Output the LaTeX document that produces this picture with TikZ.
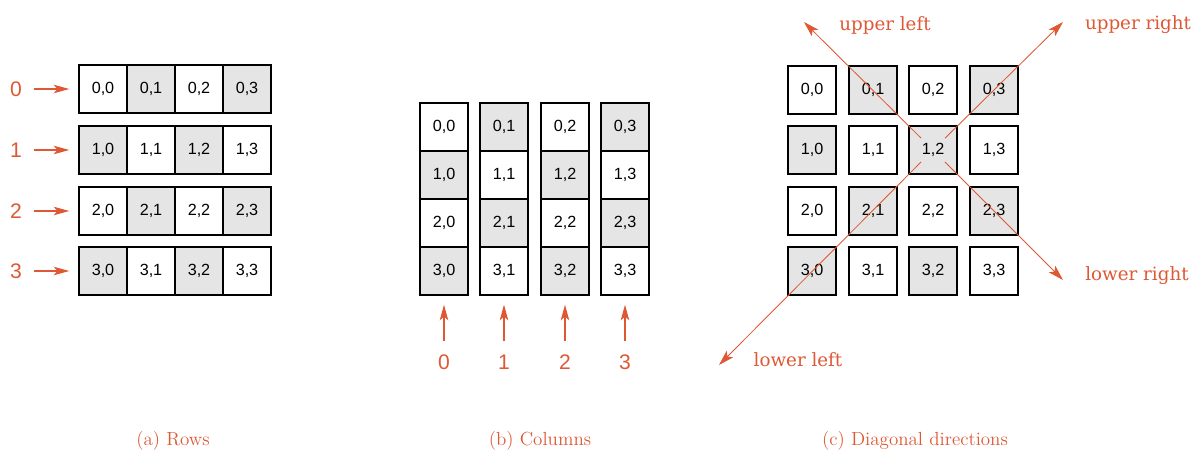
\documentclass[tikz,border=0pt]{standalone}
\usepackage{xcolor}
\usepackage{fontspec}
\setsansfont{Liberation Sans}
\newfontfamily\dirfont{DejaVu Serif}
\usepackage{tikz}
\usetikzlibrary{arrows.meta}

\definecolor{accent}{RGB}{222,88,52}
\definecolor{shade}{RGB}{229,229,229}

\tikzset{
  cell/.style={draw=black,line width=1.3pt,fill=white,minimum width=1.2cm,minimum height=1.2cm,inner sep=0pt,font=\sffamily\fontsize{11.5}{13}\selectfont},
  cellg/.style={cell,fill=shade},
  idx/.style={text=accent,inner sep=1pt,font=\sffamily\fontsize{15}{18}\selectfont},
  dirlabel/.style={text=accent,inner sep=0pt,font=\dirfont\fontsize{13}{16}\selectfont},
  caption/.style={text=accent,inner sep=0pt,font=\fontsize{13.5}{16}\selectfont},
  pointer/.style={draw=accent,line width=0.9pt,-{Stealth[length=11pt,width=6pt,inset=2.5pt]}},
  diag/.style={draw=accent,line width=0.6pt,-{Stealth[length=11pt,width=6.5pt,inset=2.5pt]}}
}

\begin{document}
\begin{tikzpicture}[x=0.025cm,y=-0.025cm]
        \useasboundingbox (0,0) rectangle (1196,454);

        % (a) rows
        \node[cell]  (A00) at (103,89) {0,0};
        \node[cellg] (A01) at (151,89) {0,1};
        \node[cell]  (A02) at (199,89) {0,2};
        \node[cellg] (A03) at (247,89) {0,3};
        \node[cellg] (A10) at (103,150) {1,0};
        \node[cell]  (A11) at (151,150) {1,1};
        \node[cellg] (A12) at (199,150) {1,2};
        \node[cell]  (A13) at (247,150) {1,3};
        \node[cell]  (A20) at (103,211) {2,0};
        \node[cellg] (A21) at (151,211) {2,1};
        \node[cell]  (A22) at (199,211) {2,2};
        \node[cellg] (A23) at (247,211) {2,3};
        \node[cellg] (A30) at (103,271) {3,0};
        \node[cell]  (A31) at (151,271) {3,1};
        \node[cellg] (A32) at (199,271) {3,2};
        \node[cell]  (A33) at (247,271) {3,3};

        \node[idx] (RA0) at (16,89) {0};
        \node[idx] (RA1) at (16,150) {1};
        \node[idx] (RA2) at (16,211) {2};
        \node[idx] (RA3) at (16,271) {3};

        \draw[pointer,shorten <=0.27cm,shorten >=0.22cm] (RA0) -- (A00.west);
        \draw[pointer,shorten <=0.27cm,shorten >=0.22cm] (RA1) -- (A10.west);
        \draw[pointer,shorten <=0.27cm,shorten >=0.22cm] (RA2) -- (A20.west);
        \draw[pointer,shorten <=0.27cm,shorten >=0.22cm] (RA3) -- (A30.west);

        % (b) columns
        \node[cell]  (B00) at (444,127) {0,0};
        \node[cellg] (B10) at (444,175) {1,0};
        \node[cell]  (B20) at (444,223) {2,0};
        \node[cellg] (B30) at (444,271) {3,0};
        \node[cellg] (B01) at (504,127) {0,1};
        \node[cell]  (B11) at (504,175) {1,1};
        \node[cellg] (B21) at (504,223) {2,1};
        \node[cell]  (B31) at (504,271) {3,1};
        \node[cell]  (B02) at (565,127) {0,2};
        \node[cellg] (B12) at (565,175) {1,2};
        \node[cell]  (B22) at (565,223) {2,2};
        \node[cellg] (B32) at (565,271) {3,2};
        \node[cellg] (B03) at (625,127) {0,3};
        \node[cell]  (B13) at (625,175) {1,3};
        \node[cellg] (B23) at (625,223) {2,3};
        \node[cell]  (B33) at (625,271) {3,3};

        \node[idx] (CB0) at (444,362) {0};
        \node[idx] (CB1) at (504,362) {1};
        \node[idx] (CB2) at (565,362) {2};
        \node[idx] (CB3) at (625,362) {3};

        \draw[pointer,shorten <=0.3cm,shorten >=0.22cm] (CB0) -- (B30.south);
        \draw[pointer,shorten <=0.3cm,shorten >=0.22cm] (CB1) -- (B31.south);
        \draw[pointer,shorten <=0.3cm,shorten >=0.22cm] (CB2) -- (B32.south);
        \draw[pointer,shorten <=0.3cm,shorten >=0.22cm] (CB3) -- (B33.south);

        % (c) diagonal directions
        \node[cell]  (C00) at (812,90) {0,0};
        \node[cellg] (C01) at (873,90) {0,1};
        \node[cell]  (C02) at (933,90) {0,2};
        \node[cellg] (C03) at (994,90) {0,3};
        \node[cellg] (C10) at (812,150) {1,0};
        \node[cell]  (C11) at (873,150) {1,1};
        \node[cellg] (C12) at (933,150) {1,2};
        \node[cell]  (C13) at (994,150) {1,3};
        \node[cell]  (C20) at (812,211) {2,0};
        \node[cellg] (C21) at (873,211) {2,1};
        \node[cell]  (C22) at (933,211) {2,2};
        \node[cellg] (C23) at (994,211) {2,3};
        \node[cellg] (C30) at (812,271) {3,0};
        \node[cell]  (C31) at (873,271) {3,1};
        \node[cellg] (C32) at (933,271) {3,2};
        \node[cell]  (C33) at (994,271) {3,3};

        \coordinate (UL) at (804,22);
        \coordinate (UR) at (1063,22);
        \coordinate (LR) at (1063,280);
        \coordinate (LL) at (719,365);

        \draw[diag,shorten <=0.42cm] (C12.center) -- (UL);
        \draw[diag,shorten <=0.42cm] (C12.center) -- (UR);
        \draw[diag,shorten <=0.42cm] (C12.center) -- (LR);
        \draw[diag,shorten <=0.42cm] (C12.center) -- (LL);

        \node[dirlabel] (TUL) at (885,25) {upper left};
        \node[dirlabel] (TUR) at (1138,25) {upper right};
        \node[dirlabel] (TLR) at (1137,276) {lower right};
        \node[dirlabel] (TLL) at (798,360) {lower left};

        % captions
        \node[caption] (CapA) at (173,441) {(a) Rows};
        \node[caption] (CapB) at (540,441) {(b) Columns};
        \node[caption] (CapC) at (915,441) {(c) Diagonal directions};
\end{tikzpicture}
\end{document}
